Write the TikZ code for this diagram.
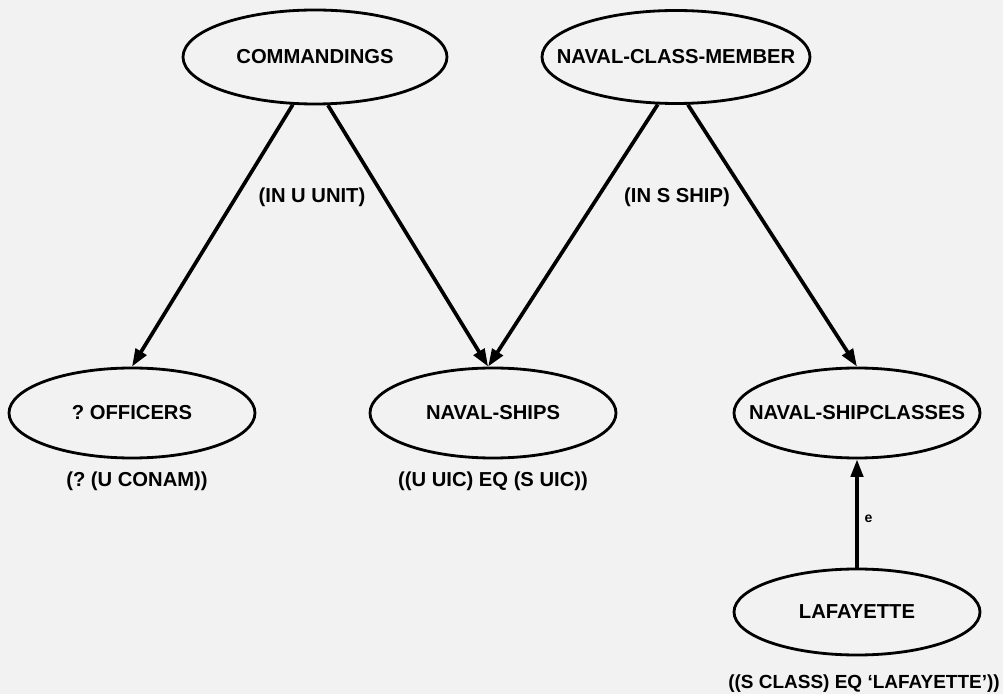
\documentclass[tikz,border=0pt]{standalone}
\usepackage{fontspec}
\setmainfont{Liberation Sans}
\usetikzlibrary{shapes.geometric,arrows.meta}
\tikzset{
  ent/.style={ellipse,draw,line width=1.6pt,minimum width=4.92cm,minimum height=1.8cm,inner xsep=-0.5cm,inner ysep=0pt,font=\fontsize{11.5}{13}\selectfont\bfseries},
  cond/.style={font=\fontsize{11.5}{13}\selectfont\bfseries,inner sep=1pt},
  link/.style={line width=2.1pt,-{Triangle[length=10pt,width=7pt]}}
}
\begin{document}
\frenchspacing
\begin{tikzpicture}
\fill[black!5] (0,0) rectangle (20.06,13.88);
\useasboundingbox (0,0) rectangle (20.06,13.88);
% upper nodes
\node[ent,minimum width=5.28cm,minimum height=1.88cm] (cmd) at (6.30,12.74) {COMMANDINGS};
\node[ent,minimum width=5.36cm,minimum height=1.86cm] (ncm) at (13.52,12.74) {NAVAL-CLASS-MEMBER};
% lower nodes
\node[ent] (off) at (2.64,5.62) {? OFFICERS};
\node[ent] (ships) at (9.86,5.62) {NAVAL-SHIPS};
\node[ent] (cls) at (17.14,5.62) {NAVAL-SHIPCLASSES};
\node[ent,minimum height=1.72cm] (laf) at (17.14,1.64) {LAFAYETTE};
% conditions
\node[cond] (inu) at (6.24,9.94) {(IN U UNIT)};
\node[cond] (ins) at (13.54,9.94) {(IN S SHIP)};
\node[cond] (conam) at (2.74,4.26) {(? (U CONAM))};
\node[cond] (uic) at (9.86,4.26) {((U UIC) EQ (S UIC))};
\node[cond,font=\fontsize{10.8}{13}\selectfont\bfseries] (lafq) at (17.28,0.20) {((S CLASS) EQ `LAFAYETTE'))};
% links
\draw[link] (cmd.-115) -- (off.north);
\draw[link] (cmd.-75) -- (ships.96);
\draw[link] (ncm.-111) -- (ships.96);
\draw[link] (ncm.-76) -- (cls.north);
\draw[link] (laf.north) -- node[right,font=\fontsize{8}{10}\selectfont\bfseries,pos=0.45] (e) {e} (cls.south);
\end{tikzpicture}
\end{document}
